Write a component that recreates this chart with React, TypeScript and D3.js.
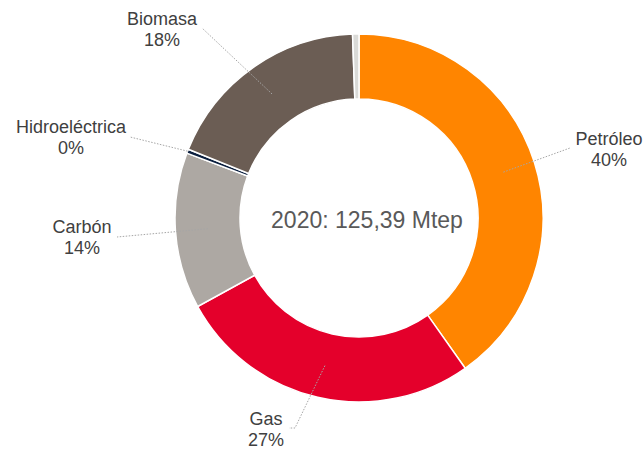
import React from "react";
import * as d3 from "d3";

const categories = ["Petróleo", "Gas", "Carbón", "Hidroeléctrica", "Biomasa", "Otros"];
const valuesMtep = [50.4, 33.6, 17.2, 0.45, 23.0, 0.7];
const colors = ["#FF8500", "#E4002B", "#ADA8A3", "#0B1F3F", "#6B5D54", "#DADAD7"];
const centerTitle = "2020: 125,39 Mtep";

// label layout (positions of text and leader-line ends), keyed by category
const labelLayout: Record<string, { x: number; y: number; end: [number, number][]; fromOuter?: boolean }> = {
  "Petróleo": { x: 609, y: 145, end: [[570, 148]] },
  "Gas": { x: 266, y: 425, end: [[295, 428], [289, 428]] },
  "Carbón": { x: 82, y: 233, end: [[117, 237]] },
  "Hidroeléctrica": { x: 71, y: 133, end: [[130, 137]], fromOuter: true },
  "Biomasa": { x: 162, y: 25, end: [[202, 28]] },
};

const W = 643;
const H = 453;
const cx = 359;
const cy = 218;
const outerR = 184;
const innerR = 119;

export default function App() {
  const data = categories.map((c, i) => ({ name: c, value: valuesMtep[i], color: colors[i] }));
  const total = d3.sum(valuesMtep);
  const pie = d3
    .pie<{ name: string; value: number; color: string }>()
    .sort(null)
    .value((d) => d.value);
  const arcs = pie(data);
  const arc = d3
    .arc<d3.PieArcDatum<{ name: string; value: number; color: string }>>()
    .innerRadius(innerR)
    .outerRadius(outerR);
  const outerArc = d3
    .arc<d3.PieArcDatum<{ name: string; value: number; color: string }>>()
    .innerRadius(outerR)
    .outerRadius(outerR);
  const fmt = d3.format(".0f");

  return (
    <div style={{ position: "absolute", left: 0, top: 0 }}>
      <svg width={W} height={H} style={{ display: "block", fontFamily: "'Liberation Sans', Arial, sans-serif" }}>
        <rect width={W} height={H} fill="#ffffff" />
        <g transform={`translate(${cx},${cy})`}>
          {arcs.map((a) => (
            <path key={a.data.name} d={arc(a) || ""} fill={a.data.color} stroke="#ffffff" strokeWidth={1.5} />
          ))}
        </g>
        {arcs
          .filter((a) => labelLayout[a.data.name])
          .map((a) => {
            const lay = labelLayout[a.data.name];
            const c = lay.fromOuter ? outerArc.centroid(a) : arc.centroid(a);
            const pts: [number, number][] = [[c[0] + cx, c[1] + cy], ...lay.end];
            const line = d3.line()(pts) || "";
            return (
              <g key={a.data.name}>
                <path d={line} fill="none" stroke="#A6A6A6" strokeWidth={1} strokeDasharray="1.5,1.5" />
                <text x={lay.x} y={lay.y} textAnchor="middle" fontSize={18} fill="#404040">
                  {a.data.name}
                </text>
                <text x={lay.x} y={lay.y + 21} textAnchor="middle" fontSize={18} fill="#404040">
                  {fmt((a.data.value / total) * 100)}%
                </text>
              </g>
            );
          })}
        <text x={367} y={228} textAnchor="middle" fontSize={23} fill="#595959">
          {centerTitle}
        </text>
      </svg>
    </div>
  );
}
